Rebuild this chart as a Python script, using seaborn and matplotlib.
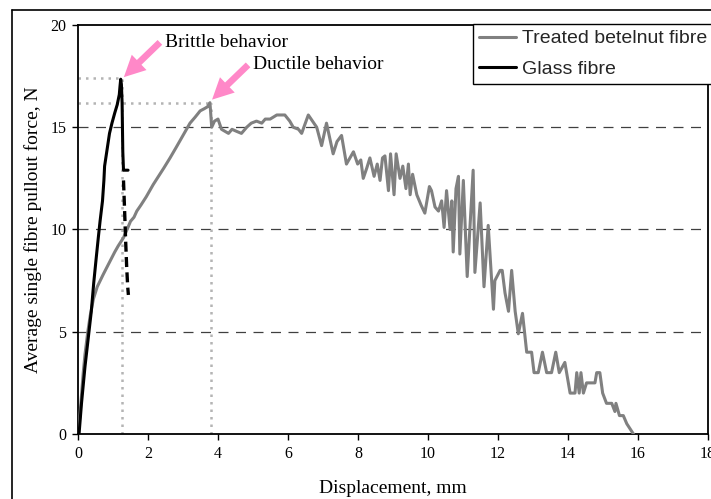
import matplotlib
matplotlib.use("Agg")
import matplotlib.pyplot as plt
from matplotlib.lines import Line2D
import seaborn as sns
import pandas as pd

# ---------------- data ----------------
betel_x = [0, 0.05, 0.1, 0.15, 0.2, 0.28, 0.35, 0.44, 0.55, 0.72, 0.9, 1.05, 1.15, 1.3, 1.39,
           1.5, 1.6, 1.68, 1.8, 1.95, 2.15, 2.3, 2.45, 2.63, 2.8, 3.0, 3.2, 3.35, 3.49, 3.6,
           3.7, 3.77, 3.82, 3.9, 4.0, 4.1, 4.2, 4.3, 4.4, 4.53, 4.67, 4.82, 4.95, 5.1, 5.25,
           5.35, 5.49, 5.68, 5.91, 6.05, 6.15, 6.3, 6.39, 6.58, 6.7, 6.82, 6.96, 7.1, 7.2,
           7.29, 7.4, 7.53, 7.67, 7.77, 7.87, 7.99, 8.08, 8.15, 8.25, 8.34, 8.46, 8.55, 8.63,
           8.70, 8.77, 8.87, 8.93, 9.03, 9.09, 9.2, 9.28, 9.37, 9.44, 9.49, 9.56, 9.68, 9.8,
           9.91, 10.04, 10.1, 10.2, 10.3, 10.39, 10.46, 10.53, 10.63, 10.68, 10.72, 10.80,
           10.87, 10.91, 11.01, 11.12, 11.29, 11.34, 11.49, 11.6, 11.72, 11.87, 11.91, 12.06,
           12.12, 12.2, 12.3, 12.39, 12.49, 12.58, 12.7, 12.82, 12.96, 13.03, 13.15, 13.27,
           13.39, 13.53, 13.65, 13.75, 13.91, 14.06, 14.2, 14.25, 14.32, 14.37, 14.44, 14.53,
           14.77, 14.82, 14.91, 14.99, 15.1, 15.25, 15.34, 15.37, 15.47, 15.58, 15.68, 15.87]
betel_y = [0, 0.8, 1.9, 3.0, 3.9, 5.0, 5.8, 6.6, 7.2, 7.8, 8.4, 8.9, 9.2, 9.6, 9.95,
           10.4, 10.6, 10.9, 11.2, 11.6, 12.2, 12.6, 13.0, 13.5, 14.0, 14.6, 15.2, 15.5, 15.8, 15.9,
           16.0, 16.2, 15.0, 15.3, 15.4, 14.9, 14.8, 14.7, 14.9, 14.8, 14.7, 15.0, 15.2, 15.3, 15.2,
           15.4, 15.4, 15.6, 15.6, 15.3, 15.0, 14.9, 14.7, 15.6, 15.3, 15.0, 14.1, 15.2, 14.4,
           13.7, 14.3, 14.6, 13.2, 13.5, 13.8, 13.2, 13.4, 12.5, 13.0, 13.5, 12.6, 13.2, 12.4,
           13.5, 13.6, 11.9, 13.7, 11.7, 13.7, 12.5, 13.1, 12.0, 13.2, 11.7, 12.7, 11.7, 11.2,
           10.8, 12.1, 11.9, 11.1, 10.9, 11.4, 10.1, 11.9, 10.0, 11.4, 8.9, 12.0,
           12.6, 8.8, 12.4, 7.7, 12.9, 7.9, 11.3, 7.2, 10.2, 6.1, 7.5, 8.0,
           8.0, 6.9, 6.0, 8.0, 6.0, 4.9, 5.9, 4.0, 4.0, 3.0, 3.0, 4.0,
           3.0, 3.0, 4.0, 3.0, 3.5, 2.0, 2.0, 3.0, 2.0, 3.0, 2.0, 2.5,
           2.5, 3.0, 3.0, 2.0, 1.5, 1.5, 1.1, 1.5, 0.9, 0.9, 0.5, 0.0]

glass_x = [0.03, 0.1, 0.2, 0.3, 0.38, 0.45, 0.52, 0.58, 0.63, 0.7, 0.74, 0.76, 0.83, 0.9,
           0.97, 1.05, 1.12, 1.18, 1.2, 1.22, 1.24, 1.26, 1.27, 1.28, 1.30, 1.36, 1.43]
glass_y = [0, 1.5, 3.3, 4.8, 6.0, 7.4, 8.6, 9.6, 10.4, 11.4, 12.4, 13.1, 13.9, 14.7,
           15.2, 15.7, 16.1, 16.6, 17.0, 17.35, 17.1, 16.2, 15.0, 13.8, 12.9, 12.9, 12.9]

glass_tail_x = [1.30, 1.33, 1.36, 1.39, 1.42, 1.44]
glass_tail_y = [12.4, 11.0, 9.5, 8.2, 7.2, 6.8]

brittle_peak = (1.25, 17.4)
ductile_peak = (3.8, 16.2)

x_ticks = [0, 2, 4, 6, 8, 10, 12, 14, 16, 18]
y_ticks = [0, 5, 10, 15, 20]

# ---------------- figure ----------------
sns.set_theme(style="white")
plt.rcParams["font.family"] = ["Liberation Serif", "DejaVu Serif"]

fig = plt.figure(figsize=(7.11, 4.99), dpi=100)
ax = fig.add_axes([78 / 711, 1 - 434 / 499, (708 - 78) / 711, (434 - 25) / 499])

# figure border (chart area frame)
fig.add_artist(Line2D([12 / 711, 12 / 711], [0, 1 - 10 / 499], transform=fig.transFigure,
                      color="black", lw=1.2))
fig.add_artist(Line2D([12 / 711, 1.0], [1 - 10 / 499, 1 - 10 / 499], transform=fig.transFigure,
                      color="black", lw=1.2))

# grid lines
for gy in y_ticks[1:-1]:
    ax.axhline(gy, color="#404040", lw=0.9, ls=(0, (8, 6)), zorder=1)

# dotted guide lines
dot_kw = dict(color="#b4b4b4", lw=1.8, ls=(0, (1, 2)), zorder=1.5)
for px, py in (brittle_peak, ductile_peak):
    ax.plot([0, px], [py, py], **dot_kw)
    ax.plot([px, px], [0, py], **dot_kw)

df_b = pd.DataFrame({"x": betel_x, "y": betel_y})
df_g = pd.DataFrame({"x": glass_x, "y": glass_y})
df_t = pd.DataFrame({"x": glass_tail_x, "y": glass_tail_y})

sns.lineplot(data=df_b, x="x", y="y", sort=False, estimator=None, color="#808080",
             lw=2.2, ax=ax, zorder=3)
sns.lineplot(data=df_g, x="x", y="y", sort=False, estimator=None, color="black",
             lw=2.2, ax=ax, zorder=4)
sns.lineplot(data=df_t, x="x", y="y", sort=False, estimator=None, color="black",
             lw=2.4, ls=(0, (3, 1.6)), ax=ax, zorder=4)

ax.set_xlim(0, 18)
ax.set_ylim(0, 20)
ax.set_xticks(x_ticks)
ax.set_yticks(y_ticks)
ax.set_xticklabels([str(t) for t in x_ticks])
ax.set_yticklabels([str(t) for t in y_ticks])
ax.tick_params(axis="both", direction="out", length=4.5, width=1.0, color="black",
               labelsize=11.5, labelcolor="black", pad=4, bottom=True, left=True)
for s in ax.spines.values():
    s.set_color("black")
    s.set_linewidth(1.3)

ax.set_xlabel("Displacement, mm", fontsize=14, color="black", labelpad=13)
ax.set_ylabel("Average single fibre pullout force, N", fontsize=14, color="black", labelpad=6)

# annotations
pink = "#ff88c8"
arrow_kw = dict(arrowstyle="simple,head_length=0.9,head_width=0.9,tail_width=0.28",
                color=pink, lw=0, shrinkA=0, shrinkB=0, mutation_scale=17)
ax.annotate("", xy=(1.31, 17.45), xytext=(2.34, 19.15), arrowprops=arrow_kw, zorder=6)
ax.text(2.48, 19.15, "Brittle behavior", fontsize=14, va="center", ha="left", color="black",
        zorder=6)
ax.annotate("", xy=(3.83, 16.35), xytext=(4.86, 18.05), arrowprops=arrow_kw, zorder=6)
ax.text(5.0, 18.05, "Ductile behavior", fontsize=14, va="center", ha="left", color="black",
        zorder=6)

# legend
handles = [Line2D([], [], color="#808080", lw=2.2), Line2D([], [], color="black", lw=2.2)]
leg = ax.legend(handles, ["Treated betelnut fibre", "Glass fibre"], loc="upper left",
                bbox_to_anchor=(473 / 711, 1 - 24 / 499), bbox_transform=fig.transFigure,
                prop={"family": ["Liberation Sans", "DejaVu Sans"], "size": 14},
                frameon=True, fancybox=False, framealpha=1, edgecolor="black",
                handlelength=1.9, handletextpad=0.3, labelspacing=0.65, borderpad=0.3,
                borderaxespad=0)
leg.get_frame().set_linewidth(1.0)
leg.set_zorder(10)

fig.savefig("out.png", dpi=100)
